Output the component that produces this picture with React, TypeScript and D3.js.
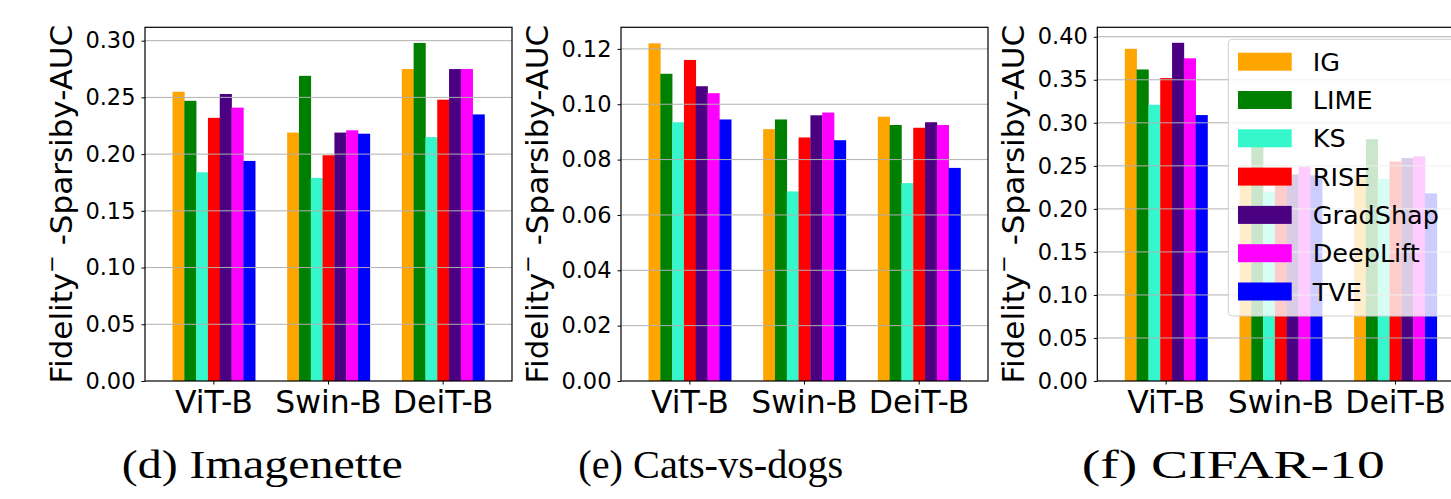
import * as React from "react";
import * as d3 from "d3";

const models = ["ViT-B", "Swin-B", "DeiT-B"];
const methods = ["IG", "LIME", "KS", "RISE", "GradShap", "DeepLift", "TVE"];
const colors = ["#ffa500", "#008000", "#36f7cb", "#ff0000", "#4b0082", "#ff00ff", "#0000ff"];

// values per method, one entry per model
const imagenette = [
  [0.255, 0.219, 0.275],
  [0.247, 0.269, 0.298],
  [0.184, 0.179, 0.215],
  [0.232, 0.199, 0.248],
  [0.253, 0.219, 0.275],
  [0.241, 0.221, 0.275],
  [0.194, 0.218, 0.235],
];
const catsDogs = [
  [0.122, 0.091, 0.0955],
  [0.111, 0.0945, 0.0925],
  [0.0935, 0.0685, 0.0715],
  [0.116, 0.088, 0.0915],
  [0.1065, 0.096, 0.0935],
  [0.104, 0.097, 0.0925],
  [0.0945, 0.087, 0.077],
];
const cifar = [
  [0.386, 0.228, 0.238],
  [0.362, 0.275, 0.281],
  [0.321, 0.22, 0.235],
  [0.352, 0.23, 0.255],
  [0.393, 0.24, 0.259],
  [0.375, 0.249, 0.261],
  [0.309, 0.239, 0.218],
];

const ticksD = [0, 0.05, 0.1, 0.15, 0.2, 0.25, 0.3];
const ticksE = [0, 0.02, 0.04, 0.06, 0.08, 0.1, 0.12];
const ticksF = [0, 0.05, 0.1, 0.15, 0.2, 0.25, 0.3, 0.35, 0.4];

const panels = [
  { left: 145, max: 0.3118, data: imagenette, ticks: ticksD, caption: "(d) Imagenette", cx: 121.7, cw: 281 },
  { left: 621, max: 0.1278, data: catsDogs, ticks: ticksE, caption: "(e) Cats-vs-dogs", cx: 578.3, cw: 265 },
  { left: 1097.3, max: 0.411, data: cifar, ticks: ticksF, caption: "(f) CIFAR-10", cx: 1081.7, cw: 303 },
];

const sans = "'DejaVu Sans', sans-serif";
const serif = "'Liberation Serif', 'Times New Roman', serif";

function drawChart(svgRef) {
  const top = 27.3;
  const bottom = 381;
  const width = 367;

  const svg = d3.select(svgRef.current).attr("width", 1451).attr("height", 499);
  svg.selectAll("*").remove();

  panels.forEach((p) => {
    const g = svg.append("g").attr("transform", `translate(${p.left},0)`);
    const x0 = d3.scaleBand().domain(models).range([0, width]).paddingInner(0.279).paddingOuter(0.24);
    const x1 = d3.scaleBand().domain(methods).range([0, x0.bandwidth()]);
    const y = d3.scaleLinear().domain([0, p.max]).range([bottom, top]);

    methods.forEach((m, i) => {
      g.selectAll(null)
        .data(p.data[i])
        .enter()
        .append("rect")
        .attr("x", (d, j) => x0(models[j]) + x1(m))
        .attr("width", x1.bandwidth() + 0.3)
        .attr("y", (d) => y(d))
        .attr("height", (d) => bottom - y(d))
        .attr("fill", colors[i]);
    });

    // grid
    g.selectAll(null)
      .data(p.ticks.slice(1))
      .enter()
      .append("line")
      .attr("x1", 0)
      .attr("x2", width)
      .attr("y1", (d) => y(d))
      .attr("y2", (d) => y(d))
      .attr("stroke", "#b0b0b0")
      .attr("stroke-width", 1);

    g.append("rect")
      .attr("x", 0)
      .attr("y", top)
      .attr("width", width)
      .attr("height", bottom - top)
      .attr("fill", "none")
      .attr("stroke", "#000")
      .attr("stroke-width", 1.2);

    const yAxis = g
      .append("g")
      .call(d3.axisLeft(y).tickValues(p.ticks).tickFormat(d3.format(".2f")).tickSize(3.5).tickPadding(6));
    yAxis.select(".domain").remove();
    yAxis.selectAll("text").attr("font-family", sans).attr("font-size", 22.5).attr("fill", "#000");

    const xAxis = g
      .append("g")
      .attr("transform", `translate(0,${bottom})`)
      .call(d3.axisBottom(x0).tickSize(3.5).tickPadding(6));
    xAxis.select(".domain").remove();
    xAxis.selectAll("text").attr("font-family", sans).attr("font-size", 31.5).attr("fill", "#000");

    const lab = g
      .append("text")
      .attr("transform", `translate(-73,${(top + bottom) / 2}) rotate(-90)`)
      .attr("text-anchor", "middle")
      .attr("font-family", sans)
      .attr("font-size", 31);
    lab.append("tspan").text("Fidelity");
    lab.append("tspan").attr("dy", -13).attr("font-size", 21).text("\u2212");
    lab.append("tspan").attr("dy", 13).text(" -Sparsiby-AUC");

    svg
      .append("text")
      .attr("x", p.cx)
      .attr("y", 478)
      .attr("font-family", serif)
      .attr("font-size", 41)
      .attr("textLength", p.cw)
      .attr("lengthAdjust", "spacingAndGlyphs")
      .text(p.caption);
  });

  // legend in the last panel
  const leg = svg.append("g");
  leg
    .append("rect")
    .attr("x", 1228.3)
    .attr("y", 39.3)
    .attr("width", 260)
    .attr("height", 276.7)
    .attr("rx", 4)
    .attr("fill", "#fff")
    .attr("fill-opacity", 0.8)
    .attr("stroke", "#d0d0d0");
  const items = leg
    .selectAll(null)
    .data(methods)
    .enter()
    .append("g")
    .attr("transform", (d, i) => `translate(1238,${61.7 + i * 38.3})`);
  items
    .append("rect")
    .attr("y", -9)
    .attr("width", 53.7)
    .attr("height", 18)
    .attr("fill", (d, i) => colors[i]);
  items
    .append("text")
    .attr("x", 74.7)
    .attr("dy", "0.36em")
    .attr("font-family", sans)
    .attr("font-size", 25.5)
    .text((d) => d);
}

const App = () => {
  const svgRef = React.useRef(null);

  React.useEffect(() => {
    drawChart(svgRef);
  }, [svgRef]);

  return (
    <div style={{ position: "absolute", left: 0, top: 0, width: 1451, height: 499, overflow: "hidden", background: "#fff" }}>
      <svg ref={svgRef} style={{ display: "block" }} />
    </div>
  );
};

export default App;
